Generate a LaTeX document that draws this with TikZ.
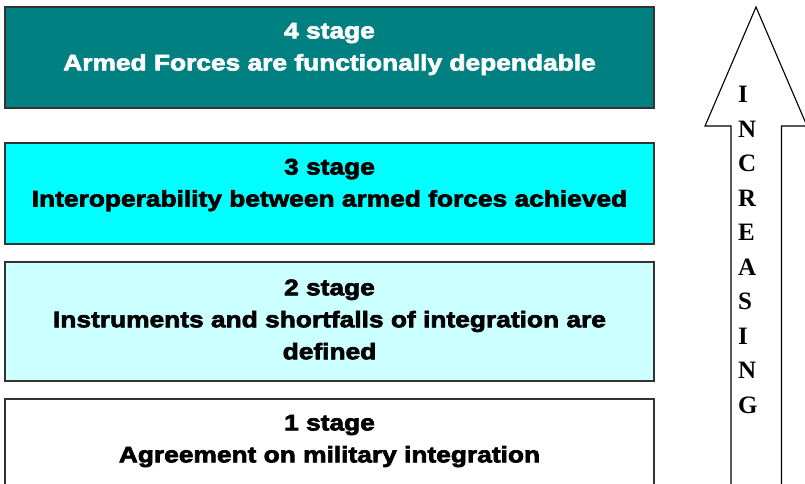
\documentclass[tikz,border=0pt]{standalone}
\usepackage{fontspec}
\setmainfont{Liberation Serif}
\setsansfont{Liberation Sans}
\newfontfamily\heavyfont[FakeBold=3, FakeStretch=1.17]{Liberation Sans Bold}
\begin{document}
\begin{tikzpicture}[x=1pt,y=-1pt,
  stagebox/.style={draw=black!80, line width=1.3pt},
  stagetext/.style={font=\heavyfont\fontsize{22.5}{32}\selectfont, align=center, inner sep=0pt},
  arrowletter/.style={font=\rmfamily\bfseries\fontsize{25}{25}\selectfont, inner sep=0pt, anchor=west}]
\useasboundingbox (0,0) rectangle (805,483);
\definecolor{teal4}{HTML}{008080}
\definecolor{cyan3}{HTML}{00FFFF}
\definecolor{cyan2}{HTML}{CCFFFF}
% boxes
\draw[stagebox, fill=teal4] (5,7) rectangle (654,108);
\draw[stagebox, fill=cyan3] (5,143) rectangle (654,244);
\draw[stagebox, fill=cyan2] (5,262) rectangle (654,381);
\draw[stagebox, fill=white] (5,399) rectangle (654,500);
% texts
\node[stagetext, text=white] (s4) at (329.5,49) {4 stage\\Armed Forces are functionally dependable};
\node[stagetext] (s3) at (329.5,185) {3 stage\\Interoperability between armed forces achieved};
\node[stagetext] (s2) at (329.5,319.5) {2 stage\\Instruments and shortfalls of integration are\\defined};
\node[stagetext] (s1) at (329.5,441) {1 stage\\Agreement on military integration};
% arrow
\draw[line width=1.1pt, fill=white] (731,500) -- (731,126) -- (705,126) -- (756,7) -- (807,126) -- (781.5,126) -- (781.5,500);
\foreach \l [count=\i from 0] in {I,N,C,R,E,A,S,I,N,G}
  \node[arrowletter] (L\i) at (738,94.7+\i*34.5) {\l};
\end{tikzpicture}
\end{document}
